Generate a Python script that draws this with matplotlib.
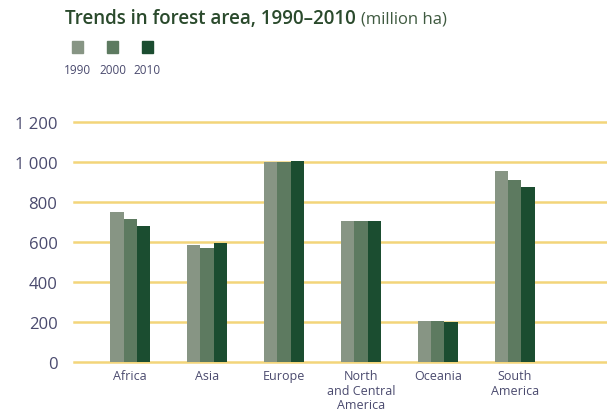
import numpy as np
import matplotlib.pyplot as plt

# Données (million ha)
regions = ["Africa", "Asia", "Europe", "North\nand Central\nAmerica", "Oceania", "South\nAmerica"]
years = ["1990", "2000", "2010"]
v1990 = [750, 585, 1000, 707, 205, 955]
v2000 = [717, 568, 1000, 707, 205, 912]
v2010 = [681, 595, 1005, 707, 198, 875]
yticks = [0, 200, 400, 600, 800, 1000, 1200]
ylabels = ["0", "200", "400", "600", "800", "1 000", "1 200"]

colors = ["#879584", "#5d7a60", "#1b4d30"]
txt = "#4a4a6e"
plt.rcParams['font.family'] = ['Open Sans', 'DejaVu Sans']

fig = plt.figure(figsize=(6.07, 4.14), dpi=100)
ax = fig.add_axes([0.122, 0.123, 0.878, 0.58])

x = np.arange(len(regions))
w = 0.173
for i, vals in enumerate([v1990, v2000, v2010]):
    ax.bar(x + (i - 1) * w, vals, width=w, color=colors[i], zorder=3)

ax.set_xlim(-0.73, 6.2)
ax.set_ylim(0, 1200)
ax.set_yticks(yticks)
ax.set_yticklabels(ylabels, fontsize=12, color=txt)
ax.set_xticks(x)
ax.set_xticklabels(regions, fontsize=9, color=txt, linespacing=1.15)
ax.tick_params(axis='y', length=0, pad=12)
ax.tick_params(axis='x', length=0, pad=5)
for s in ax.spines.values():
    s.set_visible(False)
for t in yticks:
    ax.axhline(t, color="#f3d57a", lw=1.8, zorder=1, clip_on=False)

# Titre
title = fig.text(0.107, 0.943, "Trends in forest area, 1990\u20132010", fontsize=13.5,
                 fontweight="semibold", color="#2a4a2c")
sub = fig.text(0, 0.943, "(million ha)", fontsize=12, color="#3f5a40")
fig.canvas.draw()
bb = title.get_window_extent()
sub.set_position(((bb.x1 + 5) / fig.bbox.width, 0.943))

# Légende
for i, yr in enumerate(years):
    lx = 72 + i * 35
    fig.patches.append(plt.Rectangle((lx / 607, 1 - 54 / 414), 11 / 607, 12 / 414,
                                     transform=fig.transFigure, color=colors[i]))
    fig.text((lx + 5.5) / 607, 1 - 70 / 414, yr, fontsize=8.5, color=txt,
             ha="center", va="center")

plt.savefig("out.png", dpi=100)
